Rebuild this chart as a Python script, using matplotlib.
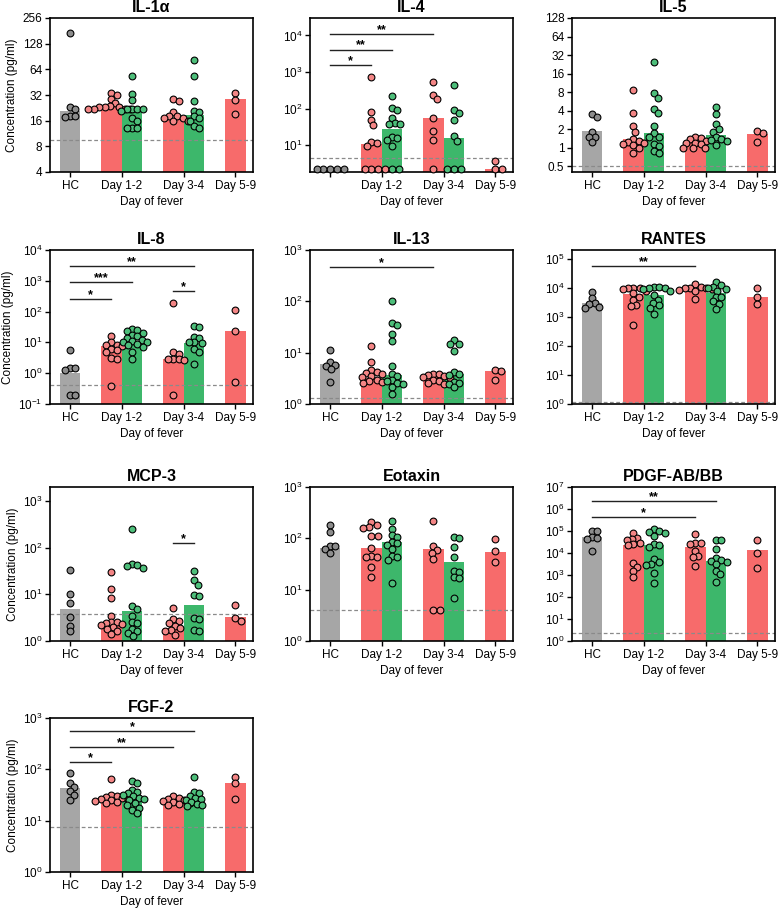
import numpy as np
import matplotlib
matplotlib.use("Agg")
import matplotlib.pyplot as plt

plt.rcParams["font.family"] = ["Liberation Sans", "DejaVu Sans"]
plt.rcParams["mathtext.default"] = "regular"

# group order: HC, Day1-2 red, Day1-2 green, Day3-4 red, Day3-4 green, Day5-9 red
group_x = [0, 2, 3, 5, 6, 8]
tick_pos = [0, 2.5, 5.5, 8]
tick_labels = ["HC", "Day 1-2", "Day 3-4", "Day 5-9"]
bar_colors = ["#A6A6A6", "#F76B6B", "#3DB76B", "#F76B6B", "#3DB76B", "#F76B6B"]
dot_colors = ["#8C8C8C", "#F38585", "#4DBE7A", "#F38585", "#4DBE7A", "#F38585"]

# ---- IL-1a
il1a_pts = [
    [170, 23, 22, 18, 18, 17.5],
    [34, 32, 29, 26, 24, 23, 23, 23, 22, 22, 22, 22],
    [53, 33, 28, 22, 22, 22, 22, 21, 17, 16, 13, 13, 13],
    [29, 27, 20, 18, 18, 17, 17, 16, 16],
    [82, 54, 27, 21, 20, 18, 17, 16, 14, 13],
    [34, 28, 19],
]
il1a_bars = [20.5, 23.5, 21.5, 17.3, 18.6, 28.4]

# ---- IL-4
il4_pts = [
    [2.24, 2.24, 2.24, 2.24, 2.24],
    [730, 82, 49, 35, 12, 11.5, 9.3, 2.24, 2.24, 2.24, 2.24],
    [225, 105, 90, 56, 41, 37, 37, 17, 16, 14, 9.8, 2.24, 2.24],
    [540, 235, 185, 56, 24, 14, 2.24],
    [430, 90, 78, 50, 18, 13, 2.24, 2.24, 2.24],
    [3.6, 2.24, 2.24],
]
il4_bars = [2.24, 11, 27, 54, 16, 2.2]

# ---- IL-5
il5_pts = [
    [3.5, 3.1, 1.8, 1.5, 1.5, 1.25],
    [8.6, 3.7, 2.2, 1.8, 1.4, 1.3, 1.25, 1.2, 1.15, 1.1, 1.0, 0.83],
    [24.4, 7.6, 6.4, 4.3, 3.7, 2.25, 1.7, 1.5, 1.5, 1.13, 1.06, 0.88, 0.8],
    [1.5, 1.45, 1.4, 1.3, 1.2, 1.2, 1.15, 1.0, 1.0, 1.0],
    [4.6, 3.5, 2.4, 2.0, 1.8, 1.5, 1.4, 1.35, 1.3, 1.1],
    [1.85, 1.7, 1.25],
]
il5_bars = [1.85, 1.36, 1.75, 1.23, 1.6, 1.65]

# ---- IL-8
il8_pts = [
    [5.8, 1.5, 1.45, 1.3, 0.19, 0.19],
    [15.7, 10, 8.5, 8, 7.5, 6, 5.5, 5, 3.2, 3.0, 0.37],
    [27, 25, 23, 20, 17, 16, 14, 12, 11, 10, 10, 9, 8, 7, 5, 2.8],
    [190, 5.0, 4.3, 3.0, 2.9, 2.8, 2.7, 0.2],
    [35, 31, 15, 14, 10, 10, 9.5, 6, 5, 2],
    [116, 24, 0.5],
]
il8_bars = [1.0, 7.7, 9.0, 2.9, 9.8, 23]

# ---- IL-13
il13_pts = [
    [11.5, 6.6, 5.8, 5.6, 4.8, 2.7],
    [13.5, 6.5, 4.5, 4.2, 4.0, 3.8, 3.5, 3.3, 3.0, 2.8, 2.7, 2.6],
    [102, 37, 35, 23, 17, 5.6, 3.9, 3.5, 3.0, 2.8, 2.6, 2.4, 2.1, 1.6],
    [3.9, 3.8, 3.7, 3.5, 3.3, 3.2, 3.0, 2.8, 2.6, 2.5],
    [17.5, 15, 14.5, 11, 4.2, 3.9, 3.6, 2.7, 2.6, 2.5, 2.1],
    [4.6, 4.4, 2.9],
]
il13_bars = [5.9, 3.2, 3.6, 3.8, 3.9, 4.4]

# ---- RANTES
rantes_pts = [
    [7300, 4500, 3000, 2700, 2100, 2000],
    [10000, 10000, 9500, 9000, 8000, 6500, 5000, 3800, 2600, 2400, 520],
    [11000, 10500, 10000, 9500, 9000, 8000, 5500, 3800, 3000, 2500, 2000, 1300],
    [13000, 10500, 10000, 10000, 9500, 9000, 8500, 8000, 4000],
    [16000, 12500, 11000, 10000, 9000, 7800, 5000, 4800, 3400, 2800, 1800],
    [10000, 5000, 2700],
]
rantes_bars = [2900, 6100, 5600, 7800, 6400, 4900]

# ---- MCP-3
mcp3_pts = [
    [33, 10.3, 6.5, 3.2, 2.1, 1.6],
    [30, 13, 8.5, 3.5, 2.6, 2.5, 2.4, 2.3, 2.2, 2.0, 1.8, 1.6, 1.4],
    [256, 45, 42, 40, 36, 5.6, 4.8, 3.5, 2.5, 2.4, 1.8, 1.6, 1.5, 1.3],
    [5.0, 3.0, 2.7, 2.4, 2.1, 1.9, 1.7, 1.6, 1.35],
    [32, 20, 16, 9.8, 9.0, 3.1, 3.0, 1.7, 1.6],
    [5.9, 3.1, 2.7],
]
mcp3_bars = [4.8, 2.3, 4.3, 1.94, 6.0, 3.2]

# ---- Eotaxin
eotaxin_pts = [
    [185, 130, 72, 70, 62, 52],
    [205, 180, 165, 160, 110, 110, 65, 45, 44, 43, 28, 18],
    [220, 150, 115, 105, 85, 80, 75, 62, 45, 43, 37, 13.5],
    [215, 70, 58, 52, 40, 4.0, 4.0],
    [105, 100, 67, 44, 23, 22, 18, 17, 7],
    [96, 56, 34],
]
eotaxin_bars = [65, 65, 83, 62, 34, 53]

# ---- PDGF-AB/BB
pdgf_pts = [
    [1.05e5, 9.5e4, 5.5e4, 5e4, 4.5e4, 1.2e4],
    [8e4, 5e4, 4.5e4, 4e4, 3e4, 2.5e4, 2.2e4, 3.5e3, 2.4e3, 1.5e3, 800],
    [1.2e5, 1.0e5, 9e4, 8e4, 5.8e4, 2.6e4, 2.2e4, 1.8e4, 5.5e3, 4e3, 3.2e3, 2.8e3, 1.2e3, 440],
    [7e4, 3e4, 2.8e4, 2.5e4, 1.2e4, 7e3, 6.5e3, 2.6e3],
    [4.1e4, 3.7e4, 1.6e4, 6e3, 5e3, 4.5e3, 3.8e3, 3.3e3, 1.6e3, 1.1e3, 500],
    [3.8e4, 1e4, 2.1e3],
]
pdgf_bars = [5.1e4, 2.3e4, 2.3e4, 1.9e4, 4.3e3, 1.4e4]

# ---- FGF-2
fgf2_pts = [
    [85, 53, 45, 38, 31, 25],
    [65, 32, 30, 29, 28, 27, 26, 25, 24, 23, 22],
    [58, 55, 40, 36, 34, 32, 30, 28, 27, 25, 22, 20, 18, 16, 14],
    [30, 28, 27, 25, 24, 23, 22, 21, 20],
    [70, 36, 34, 30, 28, 26, 25, 23, 21, 20, 19],
    [72, 53, 26],
]
fgf2_bars = [43, 26, 28, 22, 25, 55]

titles = ["IL-1α", "IL-4", "IL-5", "IL-8", "IL-13", "RANTES",
          "MCP-3", "Eotaxin", "PDGF-AB/BB", "FGF-2"]
all_pts = [il1a_pts, il4_pts, il5_pts, il8_pts, il13_pts, rantes_pts,
           mcp3_pts, eotaxin_pts, pdgf_pts, fgf2_pts]
all_bars = [il1a_bars, il4_bars, il5_bars, il8_bars, il13_bars, rantes_bars,
            mcp3_bars, eotaxin_bars, pdgf_bars, fgf2_bars]
lods = [9.45, 4.5, 0.5, 0.4, 1.29, 1.14, 3.76, 4.1, 2.2, 7.6]
ylims = [(4, 256), (1.85, 3e4), (0.4, 128), (0.1, 1e4), (1, 1e3),
         (1, 2e5), (1, 2e3), (1, 1e3), (1, 1e7), (1, 1e3)]
# significance brackets: (group a, group b, height, stars)
sigs = [
    [],
    [(0, 1, 1570, "*"), (0, 2, 4130, "**"), (0, 3, 11100, "**")],
    [],
    [(0, 1, 257, "*"), (0, 2, 910, "***"), (0, 4, 3000, "**"), (3, 4, 460, "*")],
    [(0, 3, 470, "*")],
    [(0, 3, 57000, "**")],
    [(3, 4, 126, "*")],
    [],
    [(0, 3, 4.3e5, "*"), (0, 4, 2.2e6, "**")],
    [(0, 1, 137, "*"), (0, 3, 269, "**"), (0, 4, 556, "*")],
]

W, H = 778, 910
col_left = [50, 310, 572]
row_top = [18, 250, 487, 718]
ax_w, ax_h = 203, 154


def swarm_x(ax, xc, vals, d):
    # simple beeswarm in pixel space, points may overlap a little
    pts = ax.transData.transform(np.column_stack([np.full(len(vals), xc), vals]))
    x0 = pts[0, 0]
    ys = pts[:, 1]
    xs = np.full(len(vals), x0)
    placed = []
    for i in np.argsort(-ys):
        best = None
        for k in range(0, 60):
            for sgn in ([1] if k == 0 else [1, -1]):
                off = sgn * k * d * 0.25
                ok = all((off + x0 - px) ** 2 + (ys[i] - py) ** 2 >= d ** 2
                         for px, py in placed)
                if ok:
                    best = off
                    break
            if best is not None:
                break
        xs[i] = x0 + best
        placed.append((xs[i], ys[i]))
    inv = ax.transData.inverted()
    return inv.transform(np.column_stack([xs, ys]))[:, 0]


def log_label(v):
    e = int(round(np.log10(v)))
    return "10$^{%d}$" % e


fig = plt.figure(figsize=(W / 100, H / 100), dpi=100)

for i, title in enumerate(titles):
    r, c = divmod(i, 3)
    ax = fig.add_axes([col_left[c] / W, 1 - (row_top[r] + ax_h) / H, ax_w / W, ax_h / H])
    ax.set_yscale("log")
    lo, hi = ylims[i]
    ax.set_ylim(lo, hi)
    ax.set_xlim(-0.97, 8.85)

    if i in (0, 2):
        base = 4 if i == 0 else 0.5
        ticks = [base * 2 ** k for k in range(0, 7 if i == 0 else 9)]
        ax.set_yticks(ticks)
        ax.set_yticklabels(["%g" % t for t in ticks])
    else:
        e0 = int(np.ceil(np.log10(lo) - 1e-9))
        e1 = int(np.floor(np.log10(hi) + 1e-9))
        ticks = [10.0 ** e for e in range(e0, e1 + 1)]
        ax.set_yticks(ticks)
        ax.set_yticklabels([log_label(t) for t in ticks])
    ax.yaxis.set_minor_locator(matplotlib.ticker.NullLocator())

    ax.set_xticks(tick_pos)
    labels = list(tick_labels)
    if i == 1:
        labels[0] = ""
    ax.set_xticklabels(labels)
    ax.tick_params(labelsize=8.5, length=3.5, width=1, pad=2)

    for sp in ax.spines.values():
        sp.set_linewidth(1.2)

    pts = all_pts[i]
    bars = all_bars[i]
    for g in range(6):
        ax.bar(group_x[g], bars[g] - lo, bottom=lo, width=1.0,
               color=bar_colors[g], zorder=1)
    ax.axhline(lods[i], color="#8a8a8a", lw=0.9, ls=(0, (3, 2)), zorder=2)
    for g in range(6):
        xs = swarm_x(ax, group_x[g], pts[g], 5.4)
        ax.scatter(xs, pts[g], s=24, color=dot_colors[g], edgecolor="black",
                   linewidth=0.8, zorder=3, clip_on=False)

    for a, b, y, lab in sigs[i]:
        ax.plot([group_x[a], group_x[b]], [y, y], color="#222222", lw=1, zorder=4)
        ax.annotate(lab, ((group_x[a] + group_x[b]) / 2, y), xytext=(0, -1.5),
                    textcoords="offset points", ha="center", va="bottom",
                    fontsize=9, fontweight="bold")

    ax.set_title(title, fontsize=11.5, fontweight="bold", pad=4)
    ax.set_xlabel("Day of fever", fontsize=8.5, labelpad=3)
    if c == 0:
        ax.set_ylabel("Concentration (pg/ml)", fontsize=8.5, labelpad=3)

fig.savefig("out.png", dpi=100)
